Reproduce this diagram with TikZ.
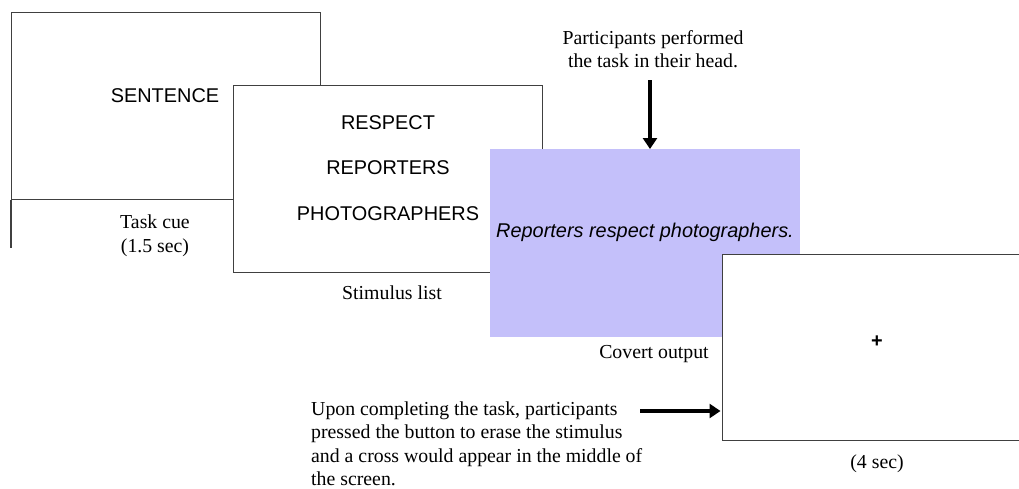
\documentclass[tikz,border=0pt]{standalone}
\usepackage{fontspec}
\setmainfont{Liberation Serif}
\setsansfont{Liberation Sans}
\usetikzlibrary{arrows.meta}
\definecolor{frame}{HTML}{404040}
\definecolor{covert}{HTML}{C4C0FA}
\begin{document}
\begin{tikzpicture}[x=1pt,y=-1pt,
  screen/.style={draw=frame,line width=1.4pt,fill=white,inner sep=0pt,anchor=north west},
  sans/.style={font=\fontsize{19.9}{23.5}\selectfont\sffamily,anchor=base,inner sep=0pt},
  serif/.style={font=\fontsize{19.8}{23.4}\selectfont\rmfamily,anchor=base,inner sep=0pt},
  bigarrow/.style={line width=4.2pt,-{Triangle[width=14pt,length=11pt]}}]
\useasboundingbox (0,0) rectangle (1019,488);
\clip (0,0) rectangle (1019,488);
% screens
\node[screen,minimum width=309pt,minimum height=187pt] (cue) at (11,12) {};
\coordinate (stray) at (11,248);
\draw[draw=frame,line width=1.4pt] (cue.south west) -- (stray);
\node[screen,minimum width=309pt,minimum height=187pt] (list) at (233,85) {};
\node[fill=covert,inner sep=0pt,anchor=north west,minimum width=310pt,minimum height=188pt] (covert) at (490,149) {};
\node[screen,minimum width=320pt,minimum height=186pt] (fix) at (722,254) {};
% texts
\node[sans] (sentence) at (165,102) {SENTENCE};
\node[serif] (cuelbl) at (155,228) {Task cue};
\node[serif] (cuetime) at (155,252) {(1.5 sec)};
\node[sans] (w1) at (388,129) {RESPECT};
\node[sans] (w2) at (388,174) {REPORTERS};
\node[sans] (w3) at (388,220) {PHOTOGRAPHERS};
\node[serif] (listlbl) at (392,299) {Stimulus list};
\node[sans,font=\fontsize{19.9}{23.5}\selectfont\sffamily\itshape] (covtext) at (645,237) {Reporters respect photographers.};
\node[serif] (covlbl) at (654,358) {Covert output};
\node[sans,anchor=center,font=\fontsize{19.9}{23.5}\selectfont\sffamily\bfseries] (cross) at (877,342) {+};
\node[serif] (fixlbl) at (877,468) {(4 sec)};
\node[serif,anchor=north,align=center] (note1) at (653,30) {Participants performed\\the task in their head.};
\node[serif,anchor=north west,align=left] (note2) at (311,401.5) {Upon completing the task, participants\\pressed the button to erase the stimulus\\and a cross would appear in the middle of\\the screen.};
% arrows
\coordinate (a1) at (650,80);
\draw[bigarrow] (a1) -- (a1 |- covert.north);
\coordinate (a2) at (640,411);
\draw[bigarrow,shorten >=1.5pt] (a2) -- (a2 -| fix.west);
\end{tikzpicture}
\end{document}
